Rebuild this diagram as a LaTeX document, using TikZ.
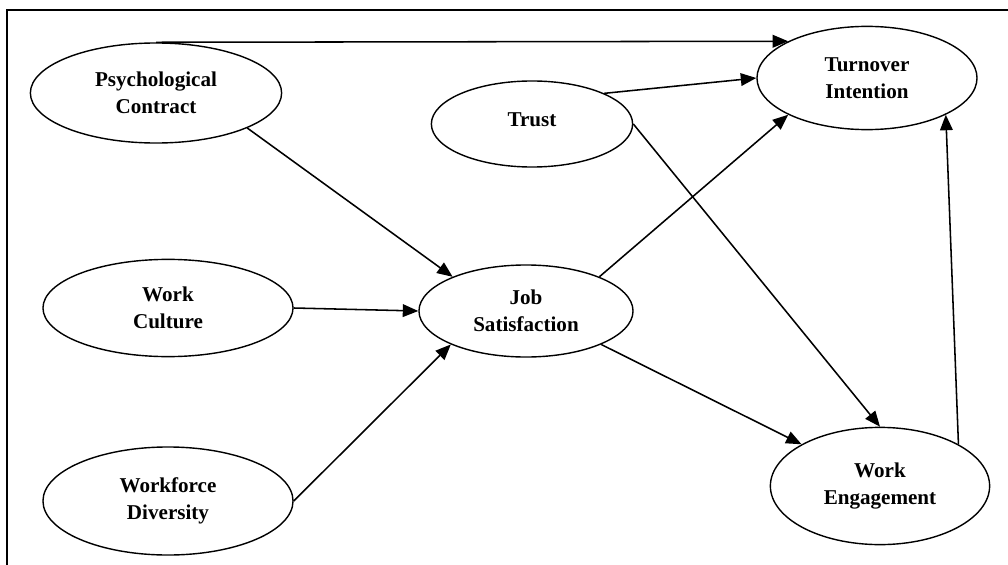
\documentclass[tikz,border=0pt]{standalone}
\usepackage{fontspec}
\setmainfont{Liberation Serif}
\usetikzlibrary{shapes.geometric,arrows.meta}

\begin{document}
\begin{tikzpicture}[x=0.025cm, y=-0.025cm]
\tikzset{varnoeud/.style={draw, ellipse, line width=1pt, inner sep=0pt, align=center,
  font=\fontsize{15}{19}\selectfont\bfseries}}
\tikzset{fleche/.style={line width=1.1pt, -{Triangle[length=11pt, width=9pt]}}}
\useasboundingbox (0,0) rectangle (1008,565);
\draw[line width=1.4pt] (1008,10) -- (7,10) -- (7,565);
\node[varnoeud, minimum width=6.28cm, minimum height=2.5cm] (PC) at (156,93) {Psychological\\Contract};
\node[varnoeud, minimum width=5.03cm, minimum height=2.15cm, text height=10pt, text depth=7pt] (TR) at (532,124) {Trust};
\node[varnoeud, minimum width=5.5cm, minimum height=2.58cm] (TI) at (867,78) {Turnover\\Intention};
\node[varnoeud, minimum width=6.25cm, minimum height=2.43cm] (WC) at (168,308) {Work\\Culture};
\node[varnoeud, minimum width=5.35cm, minimum height=2.3cm] (JS) at (526,311) {Job\\Satisfaction};
\node[varnoeud, minimum width=6.25cm, minimum height=2.7cm] (WD) at (168,501) {Workforce\\Diversity};
\node[varnoeud, minimum width=5.48cm, minimum height=2.93cm] (WE) at (880,486) {Work\\Engagement};
\draw[fleche] (PC.north) -- (TI.155);
\draw[fleche] (TR.23) -- (TI.west);
\draw[fleche] (PC.339) -- (JS.155);
\draw[fleche] (WC.east) -- (JS.west);
\draw[fleche] (WD.east) -- (JS.204);
\draw[fleche] (JS.25) -- (TI.205);
\draw[fleche] (JS.336) -- (WE.152);
\draw[fleche] (TR.east) -- (WE.north);
\draw[fleche] (WE.28) -- (TI.335);
\end{tikzpicture}
\end{document}
